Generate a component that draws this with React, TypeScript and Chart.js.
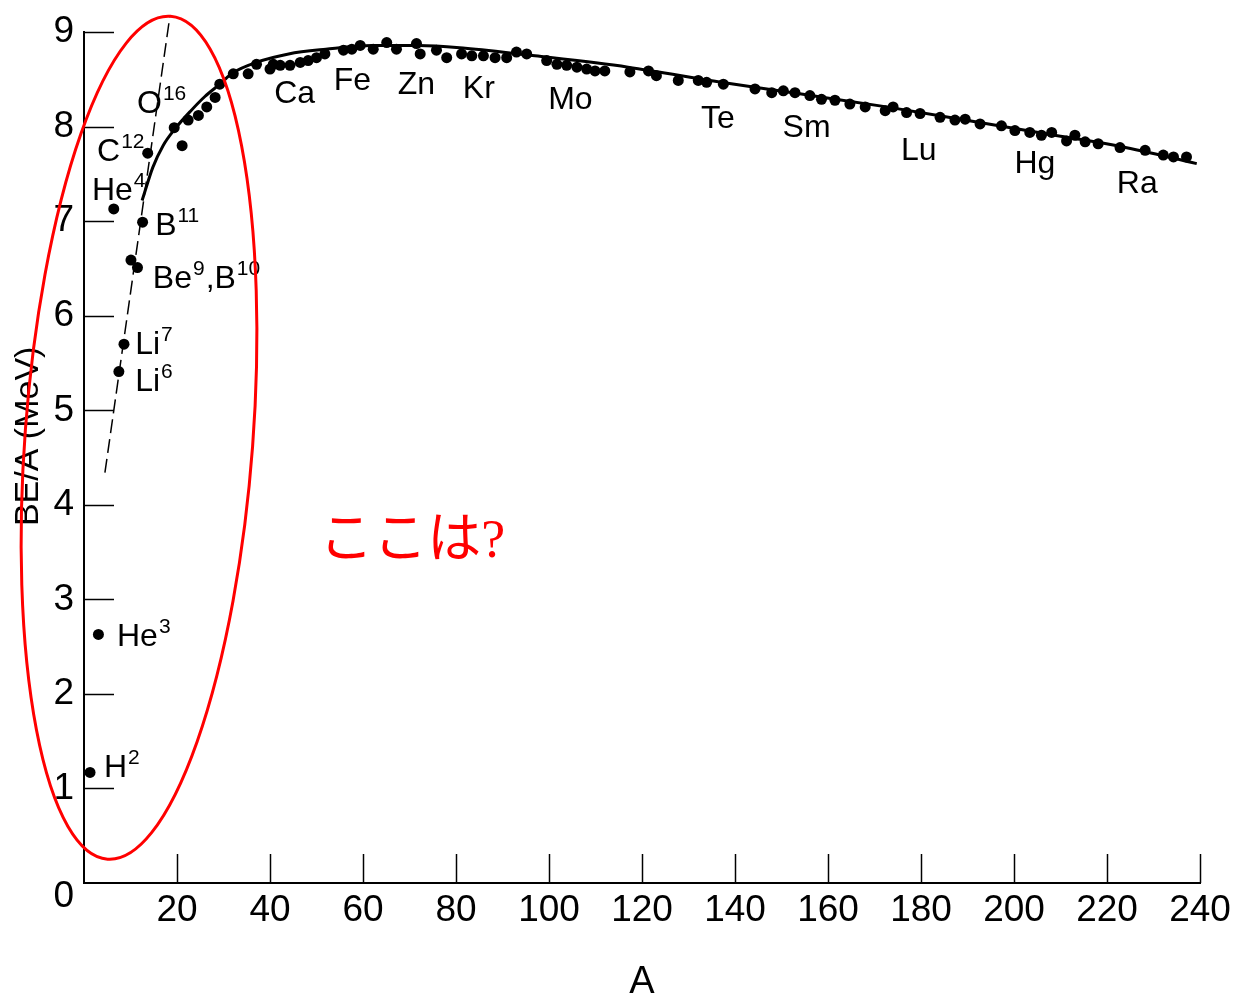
import React, { useEffect, useRef } from "react";
import { Chart, registerables } from "chart.js";

Chart.register(...registerables);

// ---- data ----
// light nuclei (H2, He3, He4, Li6, Li7, Be9, B10, B11, C12)
const lightA = [1.3, 3.1, 6.4, 7.5, 8.6, 10.1, 11.5, 12.6, 13.7];
const lightBE = [1.17, 2.63, 7.13, 5.41, 5.7, 6.59, 6.51, 6.99, 7.72];

// measured nuclei along the curve
const heavyA = [
  19.4, 21.1, 22.4, 24.6, 26.4, 28.2, 29.2, 32.1, 35.3, 37.1, 40.0, 40.7, 42.2, 44.3, 46.5, 48.2,
  50.0, 51.8, 55.8, 57.6, 59.4, 62.2, 65.1, 67.2, 71.5, 72.3, 75.8, 78.0, 81.2, 83.4, 85.9, 88.4,
  90.9, 93.0, 95.2, 99.5, 101.7, 103.8, 106.0, 108.1, 109.9, 112.0, 117.4, 121.4, 123.1, 127.8,
  132.1, 133.9, 137.5, 144.3, 147.9, 150.4, 152.9, 156.1, 158.6, 161.5, 164.7, 168.0, 172.3,
  174.0, 176.9, 179.8, 184.1, 187.3, 189.5, 192.7, 197.3, 200.2, 203.4, 205.9, 208.1, 211.3,
  213.1, 215.3, 218.1, 222.8, 228.2, 232.1, 234.3, 237.1,
];
const heavyBE = [
  7.99, 7.8, 8.07, 8.12, 8.21, 8.31, 8.45, 8.56, 8.56, 8.66, 8.61, 8.66, 8.65, 8.65, 8.68, 8.7,
  8.73, 8.77, 8.81, 8.82, 8.86, 8.82, 8.89, 8.82, 8.88, 8.77, 8.81, 8.73, 8.77, 8.75, 8.75, 8.73,
  8.73, 8.79, 8.77, 8.7, 8.66, 8.65, 8.63, 8.61, 8.59, 8.59, 8.58, 8.59, 8.54, 8.49,
  8.49, 8.47, 8.45, 8.4, 8.36, 8.38, 8.36, 8.33, 8.29, 8.28, 8.24, 8.21, 8.17,
  8.21, 8.15, 8.14, 8.1, 8.07, 8.08, 8.03, 8.01, 7.96, 7.94, 7.91, 7.94, 7.85,
  7.91, 7.84, 7.82, 7.78, 7.75, 7.7, 7.68, 7.68,
];

// smooth solid curve
const curveA = [12.5, 14.8, 17, 19.6, 23, 26, 29.2, 32, 37, 44, 52, 62, 72, 82, 97, 117, 137, 155, 172.6, 192, 210, 223, 239.3];
const curveBE = [7.22, 7.57, 7.8, 7.98, 8.17, 8.32, 8.45, 8.57, 8.68, 8.77, 8.82, 8.86, 8.86, 8.83, 8.75, 8.63, 8.47, 8.34, 8.21, 8.05, 7.9, 7.79, 7.61];

// dashed straight line
const dashA = [4.5, 18.5];
const dashBE = [4.34, 9.18];

// axis ranges / ticks
const xMin = 0;
const xMax = 240;
const xStep = 20;
const yMin = 0;
const yMax = 9;
const yStep = 1;
const xTitle = "A";
const yTitle = "BE/A (MeV)";

// element labels along the curve
const elementNames = ["Ca", "Fe", "Zn", "Kr", "Mo", "Te", "Sm", "Lu", "Hg", "Ra"];
const elementA = [45.3, 57.7, 71.5, 84.9, 104.6, 136.3, 155.4, 179.5, 204.5, 226.5];
const elementBE = [8.25, 8.39, 8.35, 8.3, 8.19, 7.99, 7.89, 7.65, 7.51, 7.3];

// nuclide labels (^ marks the mass number superscript)
const nuclideTexts = ["O^16", "C^12", "He^4", "B^11", "Be^9,B^10", "Li^7", "Li^6", "He^3", "H^2"];
const nuclideA = [11.4, 2.8, 1.7, 15.3, 14.8, 11.0, 11.0, 7.1, 4.3];
const nuclideBE = [8.15, 7.64, 7.23, 6.85, 6.29, 5.6, 5.2, 2.51, 1.12];

// red annotation
const noteText = "ここは?";
const noteA = 50.6;
const noteBE = 3.6;
const ellipseCenter = [11.83, 4.71];
const ellipseRadii = [24.5, 4.47];
const ellipseTilt = 0.0745;

const SANS = "'Liberation Sans', Arial, Helvetica, sans-serif";

const toPts = (xs: number[], ys: number[]) => xs.map((v, i) => ({ x: v, y: ys[i] }));

const annotationPlugin = {
  id: "annotations",
  afterDraw(chart: any) {
    const { ctx, chartArea } = chart;
    const x = chart.scales.x;
    const y = chart.scales.y;
    ctx.save();

    // inward tick marks
    ctx.strokeStyle = "#000";
    ctx.lineWidth = 1.5;
    x.ticks.forEach((t: any) => {
      if (t.value === xMin) return;
      const px = Math.round(x.getPixelForValue(t.value)) + 0.5;
      ctx.beginPath();
      ctx.moveTo(px, chartArea.bottom);
      ctx.lineTo(px, chartArea.bottom - 29);
      ctx.stroke();
    });
    y.ticks.forEach((t: any) => {
      if (t.value === yMin) return;
      const py = Math.round(y.getPixelForValue(t.value)) + 0.5;
      ctx.beginPath();
      ctx.moveTo(chartArea.left, py);
      ctx.lineTo(chartArea.left + 30, py);
      ctx.stroke();
    });

    ctx.fillStyle = "#000";
    // origin "0" label
    ctx.font = `37px ${SANS}`;
    ctx.textAlign = "right";
    ctx.textBaseline = "middle";
    ctx.fillText(String(yMin), chartArea.left - 10, y.getPixelForValue(yMin) + 14);

    // axis titles
    ctx.textAlign = "center";
    ctx.textBaseline = "alphabetic";
    ctx.font = `38px ${SANS}`;
    ctx.fillText(xTitle, (chartArea.left + chartArea.right) / 2, 993);
    ctx.save();
    ctx.translate(chartArea.left - 46, y.getPixelForValue(4.725));
    ctx.rotate(-Math.PI / 2);
    ctx.font = `34px ${SANS}`;
    ctx.fillText(yTitle, 0, 0);
    ctx.restore();

    // element labels
    ctx.font = `32px ${SANS}`;
    ctx.textAlign = "center";
    elementNames.forEach((n, i) => {
      ctx.fillText(n, x.getPixelForValue(elementA[i]), y.getPixelForValue(elementBE[i]));
    });

    // nuclide labels with superscripts
    ctx.textAlign = "left";
    nuclideTexts.forEach((txt, i) => {
      const parts = txt.split(/\^(\d+)/);
      let cx = x.getPixelForValue(nuclideA[i]);
      const by = y.getPixelForValue(nuclideBE[i]);
      parts.forEach((p, k) => {
        if (!p) return;
        if (k % 2 === 0) {
          ctx.font = `32px ${SANS}`;
          ctx.fillText(p, cx, by);
          cx += ctx.measureText(p).width;
        } else {
          ctx.font = `21px ${SANS}`;
          ctx.fillText(p, cx + 1, by - 13);
          cx += ctx.measureText(p).width + 2;
        }
      });
    });

    // red ellipse
    const cx0 = x.getPixelForValue(ellipseCenter[0]);
    const cy0 = y.getPixelForValue(ellipseCenter[1]);
    const rx = Math.abs(x.getPixelForValue(ellipseCenter[0] + ellipseRadii[0]) - cx0);
    const ry = Math.abs(y.getPixelForValue(ellipseCenter[1] + ellipseRadii[1]) - cy0);
    ctx.strokeStyle = "#ff0000";
    ctx.lineWidth = 3;
    ctx.beginPath();
    ctx.ellipse(cx0, cy0, rx, ry, ellipseTilt, 0, Math.PI * 2);
    ctx.stroke();

    // red note
    ctx.fillStyle = "#ff0000";
    ctx.font = `54px 'Liberation Serif', 'Noto Sans CJK JP', serif`;
    ctx.textAlign = "left";
    ctx.textBaseline = "middle";
    ctx.fillText(noteText, x.getPixelForValue(noteA), y.getPixelForValue(noteBE));

    ctx.restore();
  },
};

export default function App() {
  const canvasRef = useRef<HTMLCanvasElement | null>(null);

  useEffect(() => {
    if (!canvasRef.current) return;
    const chart = new Chart(canvasRef.current, {
      type: "scatter",
      data: {
        datasets: [
          {
            label: "light",
            data: toPts(lightA, lightBE),
            pointRadius: 5.5,
            pointBackgroundColor: "#000",
            pointBorderColor: "#000",
            pointBorderWidth: 0,
            showLine: false,
          },
          {
            label: "nuclei",
            data: toPts(heavyA, heavyBE),
            pointRadius: 5.5,
            pointBackgroundColor: "#000",
            pointBorderColor: "#000",
            pointBorderWidth: 0,
            showLine: false,
          },
          {
            label: "curve",
            data: toPts(curveA, curveBE),
            showLine: true,
            borderColor: "#000",
            borderWidth: 3,
            pointRadius: 0,
            cubicInterpolationMode: "monotone",
            fill: false,
          },
          {
            label: "dashed",
            data: toPts(dashA, dashBE),
            showLine: true,
            borderColor: "#000",
            borderWidth: 1.5,
            borderDash: [14, 6],
            pointRadius: 0,
            fill: false,
            clip: false,
          },
        ],
      } as any,
      options: {
        responsive: false,
        animation: false,
        events: [],
        layout: { padding: { left: 0, right: 40, top: 31, bottom: 0 } },
        plugins: {
          legend: { display: false },
          tooltip: { enabled: false },
        },
        scales: {
          x: {
            type: "linear",
            min: xMin,
            max: xMax,
            afterFit: (s: any) => {
              s.height = 113;
            },
            grid: { display: false, drawTicks: false },
            border: { display: true, color: "#000", width: 2 },
            ticks: {
              stepSize: xStep,
              color: "#000",
              padding: 6,
              maxRotation: 0,
              autoSkip: false,
              font: { family: SANS, size: 37 },
              callback: (v: any) => (v === xMin ? "" : String(v)),
            },
          },
          y: {
            type: "linear",
            min: yMin,
            max: yMax,
            afterFit: (s: any) => {
              s.width = 84;
            },
            grid: { display: false, drawTicks: false },
            border: { display: true, color: "#000", width: 2 },
            ticks: {
              stepSize: yStep,
              color: "#000",
              padding: 10,
              autoSkip: false,
              font: { family: SANS, size: 37 },
              callback: (v: any) => (v === yMin ? "" : String(v)),
            },
          },
        },
      } as any,
      plugins: [annotationPlugin],
    });
    return () => chart.destroy();
  }, []);

  return (
    <div style={{ position: "absolute", left: 0, top: 0, width: 1240, height: 996, background: "#fff" }}>
      <canvas ref={canvasRef} width={1240} height={996} style={{ display: "block" }} />
    </div>
  );
}
